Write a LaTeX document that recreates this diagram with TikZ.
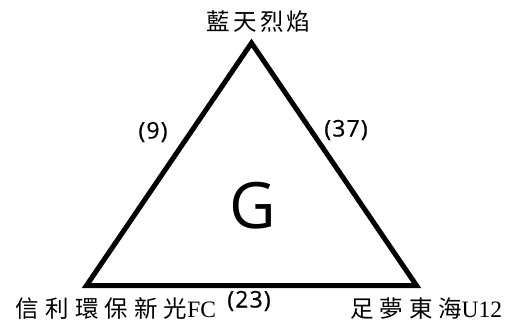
\documentclass[tikz,border=0pt]{standalone}
\usepackage{fontspec}
\setmainfont{Open Sans}
\newfontfamily\cjk{Noto Sans CJK TC}
\newfontfamily\latser{Liberation Serif}
\newfontfamily\numfont[LetterSpace=5,FakeBold=0.6]{Open Sans}
\tikzset{
  edgeline/.style={line width=5pt, miter limit=10, line join=miter},
  cjklabel/.style={font=\cjk\fontsize{23.5}{23.5}\selectfont, inner sep=0pt},
  scorelabel/.style={font=\numfont\fontsize{23}{23}\selectfont, inner sep=0pt},
  grouplabel/.style={font=\fontsize{64}{64}\selectfont, inner sep=0pt}
}
\begin{document}
\begin{tikzpicture}[x=1pt,y=-1pt]
\useasboundingbox (0,0) rectangle (505,329);
\fill[white] (0,0) rectangle (505,329);
\coordinate (A) at (251.5,43);
\coordinate (B) at (86.5,285.5);
\coordinate (C) at (416.5,285.5);
\draw[edgeline] (A) -- (B) -- (C) -- cycle;
\node[cjklabel] (top) at (258.5,22) {\addfontfeature{LetterSpace=13}藍天烈焰};
\node[cjklabel] (bl) at (116,309) {{\addfontfeature{LetterSpace=26}信利環保新光}{\latser FC}};
\node[cjklabel] (br) at (426.5,309) {{\addfontfeature{LetterSpace=24}足夢東海}{\latser U12}};
\node[scorelabel] (s9) at (153,132) {(9)};
\node[scorelabel] (s37) at (346,130) {(37)};
\node[scorelabel] (s23) at (249,301) {(23)};
\node[grouplabel] (g) at (252.5,206) {G};
\end{tikzpicture}
\end{document}
